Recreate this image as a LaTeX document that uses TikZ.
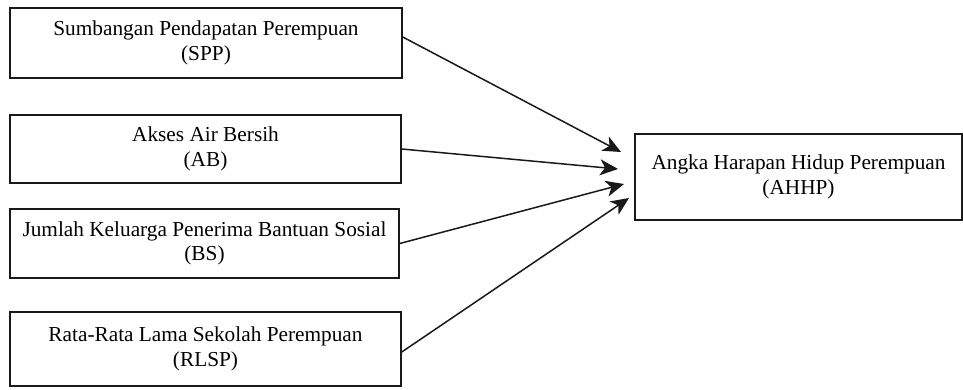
\documentclass[tikz,border=0pt]{standalone}
\usepackage{fontspec}
\setmainfont{Liberation Serif}
\usetikzlibrary{arrows.meta}
\begin{document}
\begin{tikzpicture}[x=1pt,y=-1pt,
  box/.style={draw=black!90,line width=1.5pt,align=center,inner sep=0pt,
    font=\fontsize{21.3}{24.5}\selectfont,text=black},
  conn/.style={draw=black!90,line width=1.5pt,-{Stealth[length=18pt,width=16pt,inset=5pt]}}]
\useasboundingbox (0,0) rectangle (963,389);
\node[box,minimum width=392pt,minimum height=70pt] (spp) at (206,43) {Sumbangan Pendapatan Perempuan\\(SPP)};
\node[box,minimum width=391pt,minimum height=68pt] (ab) at (205.5,149) {Akses Air Bersih\\(AB)};
\node[box,minimum width=389pt,minimum height=69pt] (bs) at (204.5,243.5) {Jumlah Keluarga Penerima Bantuan Sosial\\(BS)};
\node[box,minimum width=391pt,minimum height=74pt] (rlsp) at (205.5,349) {Rata-Rata Lama Sekolah Perempuan\\(RLSP)};
\node[box,minimum width=327pt,minimum height=86pt] (ahhp) at (798.5,177) {Angka Harapan Hidup Perempuan\\(AHHP)};
\coordinate (t1) at (621,152);
\coordinate (t2) at (618,169);
\coordinate (t3) at (624,184);
\coordinate (t4) at (629,198);
\draw[conn] ([yshift=6pt]spp.east) -- (t1);
\draw[conn] (ab.east) -- (t2);
\draw[conn] (bs.east) -- (t3);
\draw[conn] ([yshift=-3pt]rlsp.east) -- (t4);
\end{tikzpicture}
\end{document}
